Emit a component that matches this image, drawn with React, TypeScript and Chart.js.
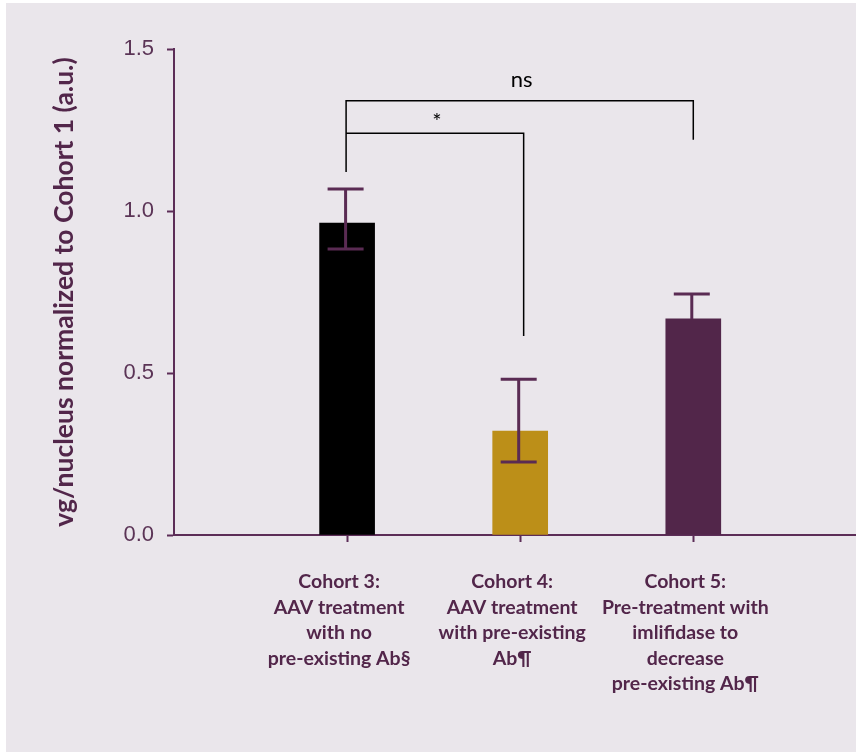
import React, { useEffect, useRef } from "react";
import { Chart, registerables } from "chart.js";

Chart.register(...registerables);

const categories: string[][] = [
  ["Cohort 3:", "AAV treatment", "with no", "pre-existing Ab§"],
  ["Cohort 4:", "AAV treatment", "with pre-existing", "Ab¶"],
  ["Cohort 5:", "Pre-treatment with", "imlifidase to", "decrease", "pre-existing Ab¶"],
];
const means = [0.963, 0.321, 0.667];
const errUpper = [1.068, 0.481, 0.744];
const errLower: (number | null)[] = [0.883, 0.225, null];
const barColors = ["#000000", "#BC8F18", "#52264A"];
const yTicks = [0, 0.5, 1.0, 1.5];
const yTitle = "vg/nucleus normalized to Cohort 1 (a.u.)";

// significance brackets: x in category positions (1-based), y in data units
const brackets = [
  { label: "ns", x1: 1, x2: 3, y: 1.34, leg1: 1.12, leg2: 1.22 },
  { label: "*", x1: 1, x2: 2.02, y: 1.24, leg1: 1.24, leg2: 0.614 },
];

const AXIS = "#5C2D57";

export default function App() {
  const ref = useRef<HTMLCanvasElement | null>(null);

  useEffect(() => {
    if (!ref.current) return;

    const bgPlugin = {
      id: "bg",
      beforeDraw(chart: any) {
        const ctx = chart.ctx;
        ctx.save();
        ctx.fillStyle = "#ffffff";
        ctx.fillRect(0, 0, chart.width, chart.height);
        ctx.fillStyle = "#EAE6EB";
        ctx.fillRect(6, 3, chart.width - 6, chart.height - 3);
        ctx.restore();
      },
    };

    const errPlugin = {
      id: "errbars",
      afterDatasetsDraw(chart: any) {
        const ctx = chart.ctx;
        const xs = chart.scales.x;
        const ys = chart.scales.y;
        ctx.save();
        ctx.strokeStyle = "#5A2B53";
        ctx.lineWidth = 3;
        for (let i = 0; i < means.length; i++) {
          const x = xs.getPixelForValue(i + 1) - 1.5;
          const yt = ys.getPixelForValue(errUpper[i]);
          const lo = errLower[i];
          const yb = ys.getPixelForValue(lo == null ? means[i] : lo);
          ctx.beginPath();
          ctx.moveTo(x, yt);
          ctx.lineTo(x, yb);
          ctx.moveTo(x - 18, yt);
          ctx.lineTo(x + 18, yt);
          if (lo != null) {
            ctx.moveTo(x - 18, yb);
            ctx.lineTo(x + 18, yb);
          }
          ctx.stroke();
        }
        // brackets
        ctx.strokeStyle = "#000000";
        ctx.lineWidth = 1.5;
        ctx.fillStyle = "#000000";
        ctx.textAlign = "center";
        ctx.textBaseline = "alphabetic";
        ctx.font = "22px Lato";
        for (const b of brackets) {
          const x1 = xs.getPixelForValue(b.x1) - 1;
          const x2 = xs.getPixelForValue(b.x2);
          const y = ys.getPixelForValue(b.y);
          ctx.beginPath();
          ctx.moveTo(x1, ys.getPixelForValue(b.leg1));
          ctx.lineTo(x1, y);
          ctx.lineTo(x2, y);
          ctx.lineTo(x2, ys.getPixelForValue(b.leg2));
          ctx.stroke();
          const off = b.label === "*" ? 4 : 14;
          ctx.fillText(b.label, (x1 + x2) / 2 + 2, y - off);
        }
        ctx.restore();
      },
    };

    const chart = new Chart(ref.current, {
      type: "bar",
      data: {
        datasets: [
          {
            data: means.map((v, i) => ({ x: i + 1, y: v })),
            backgroundColor: barColors,
            borderWidth: 0,
            barThickness: 55,
          },
        ],
      },
      options: {
        animation: false,
        responsive: false,
        layout: { padding: { top: 49, left: 0, right: 0, bottom: 0 } },
        plugins: { legend: { display: false }, tooltip: { enabled: false } },
        scales: {
          x: {
            type: "linear",
            min: 0,
            max: 3.94,
            offset: false,
            afterBuildTicks(scale: any) {
              scale.ticks = categories.map((_, i) => ({ value: i + 1 }));
            },
            afterFit(scale: any) {
              scale.height = 217;
            },
            grid: {
              offset: false,
              drawOnChartArea: false,
              drawTicks: true,
              tickLength: 7,
              tickColor: AXIS,
              tickWidth: 2,
            },
            border: { color: AXIS, width: 2 },
            ticks: {
              autoSkip: false,
              maxRotation: 0,
              minRotation: 0,
              padding: 27,
              labelOffset: -8,
              color: "#52264A",
              font: { family: "Lato", size: 19.5, weight: "bold", lineHeight: 1.308 },
              callback: (v: any) => categories[Math.round(Number(v)) - 1] ?? "",
            },
          },
          y: {
            min: 0,
            max: 1.5,
            afterBuildTicks(scale: any) {
              scale.ticks = yTicks.map((v) => ({ value: v }));
            },
            afterFit(scale: any) {
              scale.width = 174;
            },
            grid: {
              drawOnChartArea: false,
              drawTicks: true,
              tickLength: 7,
              tickColor: AXIS,
              tickWidth: 2,
            },
            border: { color: AXIS, width: 2 },
            ticks: {
              padding: 13,
              color: "#5B3456",
              font: { family: "Liberation Sans", size: 22 },
              callback: (v: any) => Number(v).toFixed(1),
            },
            title: {
              display: true,
              text: yTitle,
              color: "#52264A",
              font: { family: "Lato", size: 26.5, weight: "bold", lineHeight: 1.2 },
              padding: { top: 49, bottom: 0 },
            },
          },
        },
      },
      plugins: [bgPlugin, errPlugin],
    } as any);

    return () => chart.destroy();
  }, []);

  return (
    <div style={{ position: "fixed", left: 0, top: 0, width: 856, height: 752 }}>
      <canvas ref={ref} width={856} height={752} style={{ width: 856, height: 752, display: "block" }} />
    </div>
  );
}
